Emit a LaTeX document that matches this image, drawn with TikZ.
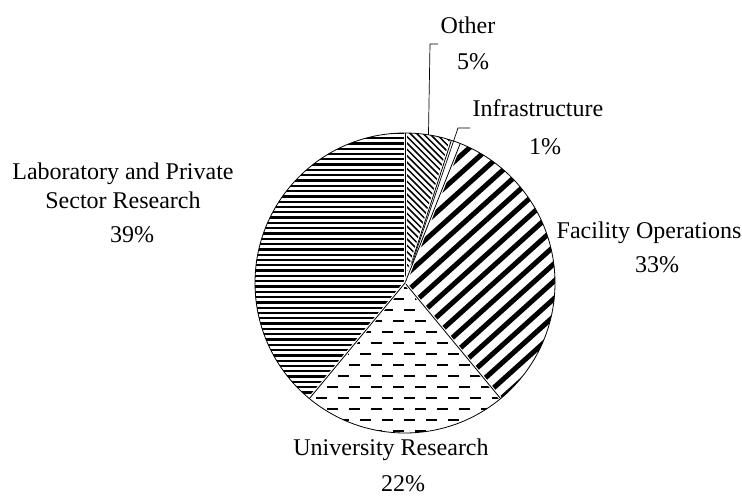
\documentclass[tikz,border=0pt]{standalone}
\usepackage{fontspec}
\setmainfont{Liberation Serif}

\begin{document}
\begin{tikzpicture}[x=1pt,y=1pt,
  lbl/.style={font=\fontsize{24}{29}\selectfont, inner sep=0pt, align=center},
  edge/.style={line width=0.8pt},
  leader/.style={line width=0.7pt}]
\useasboundingbox (0,0) rectangle (742,496);
\coordinate (c) at (405,213);
\def\rad{150}

% Laboratory and Private Sector Research: horizontal lines
\begin{scope}
\clip (c) -- ([shift={(90:\rad)}]c) arc (90:230.4:\rad) -- cycle;
\foreach \k in {-45,...,15}
  \draw[line width=2.3pt] (240,{294.3+\k*5.3}) -- ++(180,0);
\end{scope}

% Facility Operations: thick diagonal stripes
\begin{scope}
\clip (c) -- ([shift={(68.4:\rad)}]c) arc (68.4:-50.4:\rad) -- cycle;
\foreach \k in {-2,...,28}
  \draw[line width=5pt] ({\k*19.4},13) -- ++(400,360);
\end{scope}

% University Research: dashed rows
\begin{scope}
\clip (c) -- ([shift={(-50.4:\rad)}]c) arc (-50.4:-129.6:\rad) -- cycle;
\foreach \j [evaluate=\j as \ph using {mod(\j,2)*11}] in {0,...,14}
  \draw[line width=2.3pt, dash pattern=on 11pt off 11pt, dash phase=\ph pt]
    (250,{207.7-\j*11}) -- ++(320,0);
\end{scope}

% Other: thin back-diagonal lines
\begin{scope}
\clip (c) -- ([shift={(90:\rad)}]c) arc (90:72:\rad) -- cycle;
\foreach \a in {600,606.4,...,840}
  \draw[line width=1.5pt] (\a,0) -- ++(-400,400);
\end{scope}

% slice borders
\foreach \t in {90,72,68.4,-50.4,-129.6} {
  \draw[white, line width=3pt] (c) -- ([shift={(\t:\rad)}]c);
  \draw[edge] (c) -- ([shift={(\t:\rad)}]c);
}
\draw[edge] (c) circle (\rad);

% labels
\node[lbl] (othername) at (468,471) {Other};
\node[lbl] (otherpct) at (473,434) {5\%};
\node[lbl] (infraname) at (538,388) {Infrastructure};
\node[lbl] (infrapct) at (545,349) {1\%};
\node[lbl] (facname) at (649,263) {Facility Operations};
\node[lbl] (facpct) at (657,231) {33\%};
\node[lbl] (uniname) at (391,46) {University Research};
\node[lbl] (unipct) at (403,12) {22\%};
\node[lbl] (labname) at (123,310) {Laboratory and Private\\Sector Research};
\node[lbl] (labpct) at (132,261) {39\%};

% leaders
\coordinate (otherend) at (438,452);
\coordinate (otherbend) at (430,452);
\coordinate (othertip) at ([shift={(81:\rad)}]c);
\draw[leader] (otherend) -- (otherbend) -- (othertip);
\coordinate (infraend) at (470,368);
\coordinate (infrabend) at (458,368);
\coordinate (infratip) at ([shift={(70.2:20)}]c);
\draw[leader] (infraend) -- (infrabend) -- (infratip);
\end{tikzpicture}
\end{document}
